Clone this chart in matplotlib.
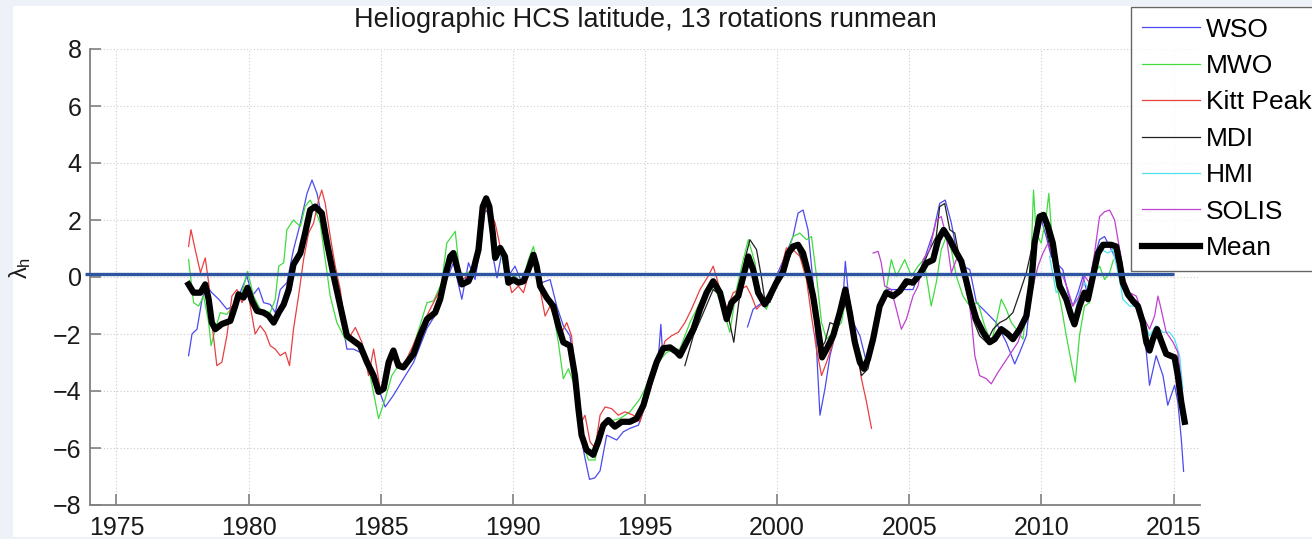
import matplotlib
matplotlib.use("Agg")
import matplotlib.pyplot as plt
from matplotlib.patches import Rectangle
import numpy as np

plt.rcParams['font.family'] = ['Liberation Sans', 'DejaVu Sans']
plt.rcParams['mathtext.fontset'] = 'custom'
plt.rcParams['mathtext.rm'] = 'Liberation Sans'
plt.rcParams['mathtext.it'] = 'Liberation Sans'

TITLE = "Heliographic HCS latitude, 13 rotations runmean"
YLABEL = r"$\lambda_\mathrm{h}$"
LABELS = ["WSO", "MWO", "Kitt Peak", "MDI", "HMI", "SOLIS", "Mean"]
XTICKS = [1975, 1980, 1985, 1990, 1995, 2000, 2005, 2010, 2015]
YTICKS = [-8, -6, -4, -2, 0, 2, 4, 6, 8]
REF_LEVEL = 0.12
REF_X = [1973.82, 2015.0]

# ---------------- WSO ----------------
wso_t = [1977.73, 1977.86, 1978.05, 1978.24, 1978.43, 1978.61, 1978.87, 1979.18, 1979.43, 1979.68,
         1979.94, 1980.13, 1980.38, 1980.57, 1980.82, 1981.01, 1981.20, 1981.45, 1981.70, 1981.96,
         1982.21, 1982.40, 1982.59, 1982.77, 1983.03, 1983.22, 1983.47, 1983.72, 1983.97, 1984.22,
         1984.60, 1984.92, 1985.17, 1985.48, 1985.86, 1986.24, 1986.75, 1987.12, 1987.50, 1987.75,
         1988.07, 1988.32, 1988.57, 1988.76, 1988.95, 1989.08, 1989.27, 1989.40, 1989.58, 1989.83,
         1990.08, 1990.34, 1990.59, 1990.84, 1991.09, 1991.41, 1991.66, 1991.91, 1992.16, 1992.35,
         1992.54, 1992.73, 1992.90, 1993.10, 1993.30, 1993.55, 1993.93, 1994.18, 1994.43, 1994.75,
         1995.06, 1995.31, 1995.50, 1995.60, 1995.66,
         None,
         1998.88, 1999.09, 1999.34, 1999.72, 1999.97, 2000.35, 2000.60, 2000.79, 2000.98, 2001.17,
         2001.36, 2001.49, 2001.62, 2001.81, 2002.00, 2002.25, 2002.50, 2002.58, 2002.69, 2002.88,
         2003.13, 2003.38, 2003.63, 2003.88, 2004.13, 2004.64, 2005.14, 2005.52, 2005.90, 2006.15,
         2006.36, 2006.59, 2006.78, 2007.03, 2007.29, 2007.54, 2007.92, 2008.29, 2008.67, 2008.99,
         2009.18, 2009.43, 2009.62, 2009.80, 2010.00, 2010.18, 2010.37, 2010.56, 2010.81, 2011.00,
         2011.19, 2011.38, 2011.57, 2011.76, 2011.95, 2012.20, 2012.39, 2012.64, 2012.89, 2013.15,
         2013.46, 2013.78, 2013.97, 2014.09, 2014.34, 2014.60, 2014.78, 2015.04, 2015.16, 2015.29,
         2015.38]
wso_v = [-2.76, -2.0, -1.83, -0.78, -0.32, -0.55, -0.78, -1.13, -1.02, -0.55,
         0.03, -0.67, -0.38, -0.9, -0.96, -1.25, -0.44, -0.2, 0.96, 1.89,
         2.93, 3.4, 2.93, 2.12, 0.72, -0.2, -1.13, -2.53, -2.53, -2.64,
         -3.11, -3.92, -4.56, -4.15, -3.57, -3.0, -1.8, -1.25, -0.09, 0.5,
         -0.78, 0.5, -0.09, 1.07, 2.35, 2.24, 0.61, -0.03, 0.84, 0.03,
         0.38, -0.2, 0.26, 0.72, -0.2, -0.09, -1.02, -1.71, -2.06, -3.46,
         -5.43, -6.36, -7.1, -7.05, -6.8, -5.55, -5.72, -5.43, -5.31, -5.2,
         -4.38, -3.46, -2.9, -1.66, -2.6,
         None,
         -1.75, -1.13, -0.96, -0.78, 0.03, 0.84, 1.42, 2.24, 2.35, 1.65,
         -0.2, -2.53, -4.85, -3.92, -2.76, -1.83, -0.67, 0.55, -0.55, -1.6,
         -2.06, -2.99, -2.06, -1.02, -0.44, -0.44, -0.44, 0.49, 1.54, 2.58,
         2.7, 1.9, 0.96, 0.38, 0.26, -0.9, -1.25, -1.6, -2.29, -3.05,
         -2.64, -2.06, -0.44, 1.19, 2.0, 1.42, 0.72, 0.49, 0.26, -0.55,
         -1.02, -0.55, 0.03, -0.67, 0.49, 1.31, 1.42, 0.96, 0.49, -0.44,
         -0.9, -1.37, -2.64, -3.8, -2.76, -3.46, -4.5, -3.8, -4.38, -5.66,
         -6.82]

# ---------------- MWO ----------------
mwo_t = [1977.73, 1977.92, 1978.11, 1978.30, 1978.49, 1978.58, 1978.74, 1978.93, 1979.18, 1979.50,
         1979.75, 1979.96, 1980.19, 1980.44, 1980.82, 1981.01, 1981.14, 1981.33, 1981.45, 1981.70,
         1981.96, 1982.14, 1982.33, 1982.52, 1982.71, 1982.90, 1983.09, 1983.34, 1983.66, 1983.97,
         1984.29, 1984.60, 1984.92, 1985.17, 1985.42, 1985.67, 1985.99, 1986.24, 1986.56, 1986.75,
         1987.00, 1987.31, 1987.50, 1987.82, 1988.00, 1988.26, 1988.57, 1988.82, 1988.99, 1989.14,
         1989.33, 1989.52, 1989.77, 1990.08, 1990.34, 1990.59, 1990.78, 1990.97, 1991.22, 1991.53,
         1991.72, 1991.91, 1992.10, 1992.29, 1992.48, 1992.67, 1992.86, 1993.11, 1993.30, 1993.55,
         1994.05, 1994.43, 1994.81, 1995.19, 1995.50, 1995.82, 1996.20, 1996.32, 1996.70, 1997.08,
         1997.46, 1997.71, 1997.96, 1998.21, 1998.46, 1998.72, 1998.91, 1999.16, 1999.34, 1999.59,
         1999.84, 2000.10, 2000.35, 2000.60, 2000.86, 2001.11, 2001.30, 2001.49, 2001.68, 2001.87,
         2002.12, 2002.43, 2002.62, 2002.81, 2003.06, 2003.32, 2003.57, 2003.82, 2004.13, 2004.32,
         2004.51, 2004.83, 2005.08, 2005.33, 2005.55, 2005.83, 2006.02, 2006.21, 2006.40, 2006.59,
         2006.78, 2007.03, 2007.29, 2007.60, 2007.85, 2008.10, 2008.29, 2008.48, 2008.67, 2008.86,
         2009.05, 2009.30, 2009.49, 2009.62, 2009.70, 2009.80, 2009.99, 2010.18, 2010.28, 2010.43,
         2010.56, 2010.75, 2010.94, 2011.13, 2011.28, 2011.44, 2011.63, 2011.82, 2012.01, 2012.20,
         2012.39, 2012.58, 2012.72]
mwo_v = [0.61, -0.9, -1.02, -0.67, -1.6, -2.41, -1.83, -1.25, -1.31, -0.9,
         -0.55, 0.2, -0.67, -1.13, -1.25, -0.78, 0.38, 0.5, 1.66, 2.0,
         1.77, 2.47, 2.7, 2.35, 1.89, 0.61, -0.67, -1.6, -2.18, -2.29,
         -2.53, -3.46, -4.97, -4.27, -3.46, -3.11, -2.99, -2.41, -1.48, -0.9,
         -0.84, -0.2, 1.19, 1.6, 0.03, 0.15, 0.26, 2.12, 2.7, 2.35,
         0.72, 0.96, -0.09, 0.03, -0.2, 0.61, 1.07, 0.15, -0.67, -1.25,
         -2.29, -3.57, -3.22, -3.69, -4.85, -5.9, -6.42, -6.42, -5.55, -5.08,
         -4.97, -4.73, -4.27, -3.57, -2.99, -2.64, -2.53, -2.53, -1.6, -0.9,
         -0.32, -0.55, -1.13, -1.94, -0.44, 0.61, 1.31, 0.5, -0.78, -1.13,
         -0.55, 0.03, 0.72, 1.42, 1.54, 1.31, 1.42, 0.03, -1.6, -2.18,
         -1.94, -1.6, -0.67, -1.48, -2.41, -3.22, -2.64, -1.13, -0.44, 0.61,
         0.03, 0.61, 0.03, 0.38, 0.61, -1.02, -0.2, 0.96, 1.42, 0.96,
         0.03, -0.67, -1.02, -0.9, -1.71, -2.29, -1.6, -0.78, -1.13, -1.6,
         -1.83, -2.18, -0.67, 0.96, 3.05, 1.54, 1.19, 2.12, 2.93, 0.96,
         -0.2, -1.02, -2.06, -2.99, -3.69, -2.06, -1.02, -0.9, 0.15, 0.38,
         -0.09, 0.15, 0.6]

# ---------------- Kitt Peak ----------------
kp_t = [1977.73, 1977.82, 1977.98, 1978.18, 1978.36, 1978.49, 1978.61, 1978.80, 1978.99, 1979.18,
        1979.37, 1979.56, 1979.75, 1979.96, 1980.13, 1980.25, 1980.44, 1980.63, 1980.82, 1981.01,
        1981.20, 1981.39, 1981.55, 1981.70, 1981.89, 1982.08, 1982.27, 1982.46, 1982.65, 1982.77,
        1982.90, 1983.09, 1983.28, 1983.47, 1983.66, 1983.85, 1984.04, 1984.29, 1984.54, 1984.73,
        1984.98, 1985.23, 1985.48, 1985.86, 1986.20, 1986.49, 1986.87, 1987.38, 1987.75, 1988.07,
        1988.51, 1988.89, 1989.01, 1989.33, 1989.52, 1989.77, 1989.96, 1990.21, 1990.40, 1990.65,
        1990.84, 1991.03, 1991.22, 1991.41, 1991.59, 1991.85, 1992.04, 1992.22, 1992.35, 1992.54,
        1992.73, 1992.92, 1993.11, 1993.30, 1993.49, 1993.74, 1993.99, 1994.24, 1994.56, 1994.81,
        1995.12, 1995.44, 1995.76, 1996.01, 1996.26, 1996.51, 1996.76, 1997.08, 1997.39, 1997.58,
        1997.84, 1998.09, 1998.34, 1998.59, 1998.84, 1999.03, 1999.22, 1999.47, 1999.78, 2000.04,
        2000.35, 2000.60, 2000.86, 2001.11, 2001.30, 2001.49, 2001.68, 2001.87, 2002.12, 2002.37,
        2002.56, 2002.75, 2003.00, 2003.19, 2003.38, 2003.57]
kp_v = [1.07, 1.66, 0.96, 0.15, 0.67, -0.2, -1.6, -3.11, -2.99, -2.06,
        -0.67, -0.44, -0.9, -0.44, -1.37, -2.0, -1.71, -1.94, -2.41, -2.53,
        -2.76, -2.64, -3.11, -1.83, -0.67, 0.61, 1.54, 1.89, 2.7, 3.05,
        2.58, 1.42, 0.38, -0.44, -1.83, -2.06, -1.77, -2.29, -3.46, -2.53,
        -3.92, -3.57, -2.76, -3.11, -2.45, -1.83, -1.13, -0.2, 0.72, -0.09,
        0.15, 2.12, 2.58, 1.89, 1.07, 0.15, -0.55, -0.32, -0.55, 0.26,
        0.5, -0.44, -1.37, -1.02, -1.48, -1.94, -1.6, -2.06, -3.34, -5.2,
        -4.85, -5.78, -6.01, -4.85, -4.56, -4.62, -4.85, -4.73, -4.85, -5.08,
        -4.15, -3.22, -2.24, -2.06, -1.94, -1.6, -1.13, -0.44, 0.03, 0.38,
        -0.44, -1.13, -0.55, -0.44, -0.32, -0.67, -1.13, -0.9, -0.78, -0.09,
        1.02, 0.96, 0.72, -0.09, -1.37, -2.53, -3.46, -2.99, -2.29, -1.37,
        -0.78, -1.37, -2.41, -3.57, -4.38, -5.31]

# ---------------- MDI ----------------
mdi_t = [1996.51, 1996.83, 1997.21, 1997.58, 1997.90, 1998.15, 1998.36, 1998.53, 1998.78, 1998.97,
         1999.22, 1999.40, 1999.53, 1999.72, 1999.97, 2000.29, 2000.54, 2000.73, 2000.98, 2001.23,
         2001.42, 2001.62, 2001.81, 2002.00, 2002.25, 2002.50, 2002.62, 2002.81, 2003.00, 2003.19,
         2003.44, 2003.69, 2003.94, 2004.26, 2004.64, 2005.02, 2005.40, 2005.71, 2006.02, 2006.15,
         2006.34, 2006.53, 2006.72, 2006.91, 2007.16, 2007.41, 2007.66, 2007.92, 2008.17, 2008.42,
         2008.67, 2008.92, 2009.18, 2009.43, 2009.68, 2009.93, 2010.12, 2010.31, 2010.50, 2010.81]
mdi_v = [-3.11, -2.06, -1.25, -0.44, -0.67, -1.37, -2.29, -1.02, 0.61, 1.31,
         0.96, 0.03, -0.78, -0.9, -0.32, 0.26, 0.84, 1.07, 0.5, -0.2,
         -1.37, -2.53, -2.29, -1.6, -1.71, -1.13, -0.9, -1.6, -2.53, -3.46,
         -3.22, -2.06, -0.9, -0.55, -0.55, -0.2, 0.15, 0.84, 1.42, 2.47,
         2.58, 1.66, 1.54, 0.61, -0.44, -1.48, -2.06, -2.29, -1.83, -1.6,
         -1.48, -1.25, -0.55, 0.15, 1.19, 2.12, 1.89, 1.07, 0.38, -0.55]

# ---------------- HMI ----------------
hmi_t = [2010.31, 2010.56, 2010.81, 2011.06, 2011.25, 2011.44, 2011.63, 2011.82, 2012.01, 2012.27,
         2012.52, 2012.70, 2012.96, 2013.08, 2013.34, 2013.59, 2013.84, 2014.09, 2014.34, 2014.60,
         2014.85, 2015.04, 2015.23, 2015.35]
hmi_v = [0.72, -0.55, -0.32, -1.02, -1.37, -0.55, -0.2, -0.44, 0.38, 0.96,
         0.84, 0.96, -0.09, -0.78, -1.02, -1.02, -1.48, -2.06, -1.71, -1.94,
         -1.94, -2.18, -2.76, -3.92]

# ---------------- SOLIS ----------------
solis_t = [2003.63, 2003.82, 2003.94, 2004.07, 2004.32, 2004.51, 2004.70, 2004.89, 2005.14, 2005.33,
           2005.52, 2005.77, 2006.02, 2006.21, 2006.40, 2006.59, 2006.78, 2006.97, 2007.16, 2007.35,
           2007.48, 2007.66, 2007.92, 2008.10, 2008.36, 2008.61, 2008.86, 2009.11, 2009.37, 2009.62,
           2009.87, 2010.06, 2010.25, 2010.43, 2010.62, 2010.81, 2011.00, 2011.19, 2011.44, 2011.63,
           2011.82, 2012.01, 2012.20, 2012.39, 2012.58, 2012.77, 2012.96, 2013.15, 2013.34, 2013.59,
           2013.84, 2014.09, 2014.28, 2014.41, 2014.53, 2014.72, 2014.98, 2015.16, 2015.29]
solis_v = [0.84, 0.9, 0.5, -0.32, -0.44, -1.13, -1.83, -1.48, -0.67, -0.32,
           0.61, 0.96, 2.0, 2.12, 1.42, 0.15, 0.61, 0.72, -0.2, -1.48,
           -2.76, -3.46, -3.57, -3.75, -3.34, -2.99, -2.64, -2.29, -1.6, -0.55,
           0.38, 0.84, 1.19, 0.72, 0.26, 0.03, -0.44, -1.02, -0.67, 0.03,
           -0.2, 0.84, 2.12, 2.29, 2.35, 2.0, 0.96, -0.09, -0.55, -0.67,
           -1.37, -1.83, -1.37, -0.67, -1.13, -1.94, -2.29, -2.64, -3.69]

# ---------------- Mean ----------------
mean_t = [1977.73, 1977.92, 1978.18, 1978.36, 1978.49, 1978.61, 1978.74, 1978.99, 1979.31, 1979.50,
          1979.62, 1979.81, 1979.96, 1980.13, 1980.32, 1980.57, 1980.76, 1980.95, 1981.14, 1981.33,
          1981.52, 1981.70, 1981.96, 1982.14, 1982.33, 1982.52, 1982.77, 1982.97, 1983.22, 1983.47,
          1983.72, 1983.97, 1984.22, 1984.48, 1984.73, 1984.92, 1985.11, 1985.30, 1985.48, 1985.67,
          1985.86, 1986.24, 1986.49, 1986.75, 1987.06, 1987.25, 1987.44, 1987.63, 1987.75, 1987.94,
          1988.07, 1988.32, 1988.51, 1988.70, 1988.86, 1988.99, 1989.11, 1989.24, 1989.33, 1989.52,
          1989.70, 1989.83, 1990.02, 1990.21, 1990.40, 1990.59, 1990.78, 1990.90, 1991.03, 1991.28,
          1991.53, 1991.72, 1991.91, 1992.16, 1992.35, 1992.48, 1992.60, 1992.79, 1993.04, 1993.23,
          1993.42, 1993.61, 1993.86, 1994.12, 1994.43, 1994.68, 1994.94, 1995.19, 1995.44, 1995.69,
          1995.95, 1996.20, 1996.32, 1996.57, 1996.83, 1997.08, 1997.33, 1997.58, 1997.84, 1998.09,
          1998.27, 1998.53, 1998.72, 1998.91, 1999.09, 1999.28, 1999.53, 1999.72, 1999.97, 2000.23,
          2000.42, 2000.60, 2000.79, 2000.98, 2001.17, 2001.36, 2001.55, 2001.70, 2001.87, 2002.12,
          2002.37, 2002.58, 2002.75, 2002.94, 2003.13, 2003.28, 2003.44, 2003.63, 2003.88, 2004.13,
          2004.39, 2004.64, 2004.89, 2005.14, 2005.40, 2005.65, 2005.90, 2006.09, 2006.30, 2006.53,
          2006.72, 2006.97, 2007.16, 2007.35, 2007.54, 2007.79, 2008.04, 2008.23, 2008.48, 2008.73,
          2008.92, 2009.18, 2009.43, 2009.62, 2009.74, 2009.93, 2010.08, 2010.25, 2010.43, 2010.56,
          2010.69, 2010.94, 2011.13, 2011.25, 2011.44, 2011.63, 2011.76, 2011.95, 2012.14, 2012.33,
          2012.64, 2012.83, 2012.96, 2013.08, 2013.27, 2013.46, 2013.65, 2013.84, 2013.97, 2014.09,
          2014.22, 2014.37, 2014.53, 2014.72, 2015.04, 2015.16, 2015.29, 2015.42]
mean_v = [-0.26, -0.55, -0.55, -0.26, -0.78, -1.6, -1.83, -1.65, -1.54, -1.0,
          -0.61, -0.72, -0.38, -0.84, -1.19, -1.25, -1.36, -1.6, -1.25, -0.96,
          -0.44, 0.44, 0.84, 1.54, 2.35, 2.47, 2.24, 1.19, 0.03, -1.02,
          -2.06, -2.24, -2.41, -2.99, -3.46, -4.03, -3.92, -2.99, -2.58, -3.11,
          -3.17, -2.7, -2.06, -1.48, -1.25, -0.78, 0.03, 0.72, 0.84, 0.15,
          -0.26, -0.15, 0.26, 0.96, 2.47, 2.76, 2.47, 1.54, 0.67, 1.02,
          0.72, -0.2, -0.09, -0.2, -0.15, 0.26, 0.78, 0.38, -0.32, -0.72,
          -1.02, -1.71, -2.29, -2.41, -3.46, -4.62, -5.55, -6.07, -6.24, -5.78,
          -5.2, -5.02, -5.25, -5.08, -5.08, -4.97, -4.5, -3.69, -2.99, -2.5,
          -2.47, -2.64, -2.76, -2.29, -1.83, -1.13, -0.55, -0.15, -0.55, -1.48,
          -0.9, -0.67, 0.03, 0.72, 0.26, -0.55, -0.96, -0.67, -0.2, 0.2,
          0.84, 1.07, 1.13, 0.84, 0.15, -0.67, -1.83, -2.82, -2.53, -2.06,
          -1.25, -0.44, -1.25, -2.29, -2.99, -3.22, -2.87, -2.18, -1.02, -0.55,
          -0.67, -0.49, -0.15, -0.2, 0.1, 0.49, 0.6, 1.3, 1.65, 1.31,
          0.96, 0.55, -0.15, -0.9, -1.48, -1.94, -2.29, -2.18, -1.83, -2.0,
          -2.18, -1.83, -1.37, -0.2, 1.19, 2.12, 2.18, 1.77, 1.19, 0.38,
          -0.32, -0.78, -1.37, -1.66, -1.02, -0.55, -0.78, 0.03, 0.84, 1.13,
          1.13, 1.07, 0.49, -0.2, -0.61, -0.84, -1.02, -1.6, -2.29, -2.58,
          -2.18, -1.83, -2.24, -2.7, -2.82, -3.46, -4.38, -5.08]

SERIES = [
    (wso_t, wso_v, "#4a4af0", 0.9),
    (mwo_t, mwo_v, "#40dc40", 0.9),
    (kp_t, kp_v, "#e84040", 0.9),
    (mdi_t, mdi_v, "#202020", 0.9),
    (hmi_t, hmi_v, "#50e0f0", 0.9),
    (solis_t, solis_v, "#c040d0", 0.9),
    (mean_t, mean_v, "#000000", 4.5),
]

fig = plt.figure(figsize=(13.12, 5.39), dpi=100, facecolor="#eef2f8")
fig.patches.append(Rectangle((13 / 1312, 2 / 539), 1 - 13 / 1312, 531 / 539,
                             transform=fig.transFigure, facecolor="white",
                             edgecolor="none", zorder=-10))
ax = fig.add_axes([90 / 1312, 1 - 505 / 539, 1110 / 1312, 456 / 539])
ax.set_zorder(1)
ax.set_facecolor("white")

handles = []
for (t, v, c, lw), lab in zip(SERIES, LABELS):
    tt = np.array([np.nan if a is None else a for a in t], dtype=float)
    vv = np.array([np.nan if a is None else a for a in v], dtype=float)
    h, = ax.plot(tt, vv, color=c, lw=lw, label=lab, zorder=3 if lw < 2 else 4)
    handles.append(h)

ax.set_xlim(1974.0, 2016.0)
ax.set_ylim(-8, 8)
ax.set_xticks(XTICKS)
ax.set_yticks(YTICKS)
ax.grid(True, linestyle=(0, (1, 2)), color="#cccccc", lw=0.8)
for s in ["top", "right"]:
    ax.spines[s].set_visible(False)
for s in ["left", "bottom"]:
    ax.spines[s].set_color("#808080")
    ax.spines[s].set_linewidth(1.3)
ax.tick_params(direction="in", length=8, width=1.2, color="#808080",
               labelsize=18, labelcolor="#1a1a1a")
ax.tick_params(axis="x", pad=8)
ax.tick_params(axis="y", pad=6)
ax.set_title(TITLE, fontsize=19.5, color="#1a1a1a", pad=16)
fig.text(20 / 1312, 1 - 268 / 539, YLABEL, rotation=90, fontsize=17,
         ha="center", va="center", color="#1a1a1a")

# reference level line drawn over the plot
ax.plot(REF_X, [REF_LEVEL, REF_LEVEL], color="#2e55a0", lw=2.4, zorder=6,
        clip_on=False, solid_capstyle="butt")

leg = fig.legend(handles=handles, loc="upper left",
                 bbox_to_anchor=(1131 / 1312, 1 - 7 / 539),
                 bbox_transform=fig.transFigure, fontsize=19, frameon=True,
                 fancybox=False, edgecolor="#404040", handlelength=2.2,
                 handletextpad=0.24, labelspacing=0.47, borderpad=0.4,
                 borderaxespad=0)
leg.set_zorder(10)
leg.get_frame().set_linewidth(1.0)

fig.savefig("out.png", dpi=100, facecolor=fig.get_facecolor())
